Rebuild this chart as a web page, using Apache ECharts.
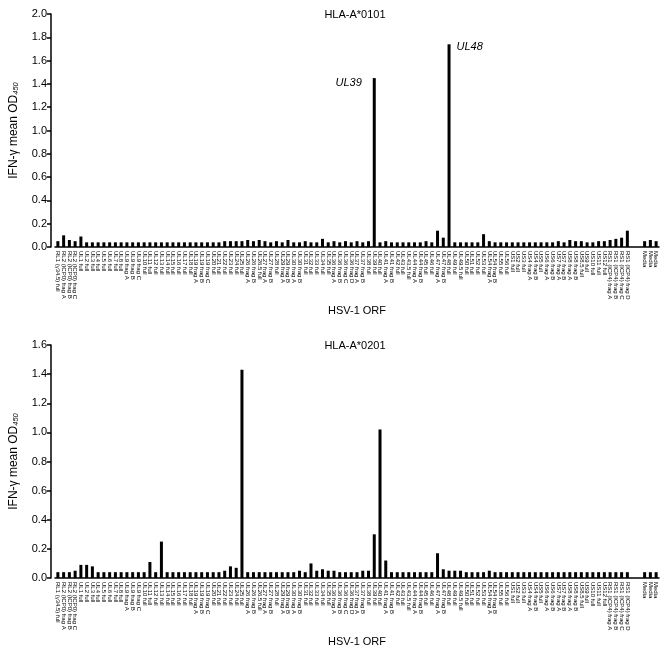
<!DOCTYPE html>
<html><head><meta charset="utf-8">
<script src="https://cdn.jsdelivr.net/npm/echarts@6/dist/echarts.min.js"></script>
<style>html,body{margin:0;padding:0;background:#fff}#c{width:665px;height:651px}</style>
</head><body><div id="c"></div>
<script>
const categories = [
'RL1 (γ34.5) full','RL2 (ICP0) frag A','RL2 (ICP0) frag B','RL2 (ICP0) frag C',
'UL1 full','UL2 full','UL3 full','UL4 full','UL5 full','UL6 full','UL7 full','UL8 full',
'UL9 frag A','UL9 frag B','UL9 frag C',
'UL10 full','UL11 full','UL12 full','UL13 full','UL14 full','UL15 full','UL16 full','UL17 full','UL18 full',
'UL19 frag A','UL19 frag B','UL19 frag C',
'UL20 full','UL21 full','UL22 full','UL23 full','UL24 full','UL25 full',
'UL26 frag A','UL26 frag B','UL26.5 full','UL27 frag A','UL27 frag B','UL28 full',
'UL29 frag A','UL29 frag B','UL30 frag A','UL30 frag B',
'UL31 full','UL32 full','UL33 full','UL34 full','UL35 full',
'UL36 frag A','UL36 frag B','UL36 frag C','UL36 frag D','UL37 frag A','UL37 frag B',
'UL38 full','UL39 full','UL40 full','UL41 frag A','UL41 frag B','UL42 full','UL43 full','UL43.5 full',
'UL44 frag A','UL44 frag B','UL45 full','UL46 full','UL47 frag A','UL47 frag B','UL48 full',
'UL49 full','UL49.5 full','UL50 full','UL51 full','UL52 full','UL53 full','UL54 frag A','UL54 frag B',
'UL55 full','UL56 full',
'US1 full','US2 full','US3 full','US4 frag A','US4 frag B','US5 full','US6 frag A','US6 frag B',
'US7 frag A','US7 frag B','US8 frag A','US8 frag B','US8.5 full','US9 full','US10 full','US11 full','US12 full',
'RS1 (ICP4) frag A','RS1 (ICP4) frag B','RS1 (ICP4) frag C','RS1 (ICP4) frag D',
'','','Media','Media','Media'
];
const a0101 = [
0.05,0.10,0.06,0.05,0.09,0.04,0.04,0.04,0.04,0.04,
0.04,0.04,0.04,0.04,0.04,0.04,0.04,0.04,0.04,0.04,
0.04,0.04,0.04,0.04,0.04,0.04,0.04,0.04,0.04,0.05,
0.05,0.05,0.05,0.06,0.05,0.06,0.05,0.04,0.05,0.04,
0.06,0.04,0.04,0.05,0.04,0.04,0.07,0.04,0.05,0.04,
0.05,0.04,0.05,0.04,0.05,1.45,0.04,0.05,0.04,0.04,
0.04,0.04,0.04,0.04,0.05,0.04,0.14,0.08,1.74,0.04,
0.04,0.04,0.04,0.04,0.11,0.05,0.04,0.04,0.04,0.04,
0.04,0.04,0.04,0.04,0.04,0.04,0.04,0.05,0.04,0.06,
0.05,0.05,0.04,0.04,0.05,0.05,0.06,0.07,0.08,0.14,
null,null,0.05,0.06,0.05
];
const a0201 = [
0.04,0.04,0.04,0.05,0.09,0.09,0.08,0.04,0.04,0.04,
0.04,0.04,0.04,0.04,0.04,0.04,0.11,0.04,0.25,0.04,
0.04,0.04,0.04,0.04,0.04,0.04,0.04,0.04,0.04,0.05,
0.08,0.07,1.43,0.04,0.04,0.04,0.04,0.04,0.04,0.04,
0.04,0.04,0.05,0.04,0.10,0.05,0.06,0.05,0.05,0.04,
0.04,0.04,0.04,0.05,0.05,0.30,1.02,0.12,0.04,0.04,
0.04,0.04,0.04,0.04,0.04,0.04,0.17,0.06,0.05,0.05,
0.05,0.04,0.04,0.04,0.04,0.05,0.04,0.04,0.04,0.04,
0.04,0.04,0.04,0.04,0.04,0.04,0.04,0.04,0.04,0.04,
0.04,0.04,0.04,0.04,0.04,0.04,0.04,0.04,0.04,0.04,
null,null,0.04,0.04,0.04
];
const titles = ['HLA-A*0101','HLA-A*0201'];
const yMax = [2.0, 1.6];
const topNotes = {55:'UL39', 68:'UL48'};

const font = 'Liberation Sans, Arial, Helvetica, sans-serif';
const chart = echarts.init(document.getElementById('c'), null, {renderer:'canvas'});
const gridTops = [14, 345];
function xAxis(i){
  return {type:'category', gridIndex:i, data:categories,
    axisLine:{lineStyle:{color:'#000',width:1.5}},
    axisTick:{alignWithLabel:true,length:3,lineStyle:{color:'#000',width:1}},
    axisLabel:{rotate:-90,interval:0,fontSize:6,color:'#000',margin:4,fontFamily:font,hideOverlap:false},
    name:'HSV-1 ORF', nameLocation:'middle', nameGap:58,
    nameTextStyle:{fontSize:11,color:'#000',fontFamily:font}};
}
function yAxis(i){
  return {type:'value', gridIndex:i, min:0, max:yMax[i], interval:0.2, offset:4,
    axisLine:{show:true,lineStyle:{color:'#000',width:1.5}},
    axisTick:{show:true,length:4,lineStyle:{color:'#000',width:1.5}},
    splitLine:{show:false},
    axisLabel:{fontSize:11,color:'#000',margin:4,fontFamily:font,formatter:v=>v.toFixed(1)},
    name:'{a|IFN-γ mean OD}{b|450}', nameLocation:'middle', nameGap:31,
    nameTextStyle:{color:'#000',fontFamily:font,
      rich:{a:{fontSize:12,color:'#000',fontFamily:font,lineHeight:15,verticalAlign:'bottom'},
            b:{fontSize:7.5,color:'#000',fontFamily:font,lineHeight:15,verticalAlign:'bottom',fontStyle:'italic'}}}};
}
const topData = a0101.map((v,i)=> topNotes[i] ? {value:v, label:{show:true, formatter:topNotes[i],
   position: topNotes[i]==='UL39' ? [-11,-1] : [9,-3],
   align: topNotes[i]==='UL39' ? 'right' : 'left', verticalAlign:'top',
   fontSize:11, fontStyle:'italic', color:'#000', fontFamily:font}} : v);

chart.setOption({
  animation:false,
  title: titles.map((t,i)=>({text:t, left:350, textAlign:'center', top:gridTops[i]-10,
    textStyle:{fontSize:11,fontWeight:'normal',color:'#000',fontFamily:font}})),
  grid: gridTops.map(t=>({left:47,right:6,top:t,height:233})),
  xAxis:[xAxis(0),xAxis(1)],
  yAxis:[yAxis(0),yAxis(1)],
  series:[
    {type:'bar', xAxisIndex:0, yAxisIndex:0, data:topData, barWidth:3, itemStyle:{color:'#000'}},
    {type:'bar', xAxisIndex:1, yAxisIndex:1, data:a0201, barWidth:3, itemStyle:{color:'#000'}}
  ]
});
</script></body></html>
